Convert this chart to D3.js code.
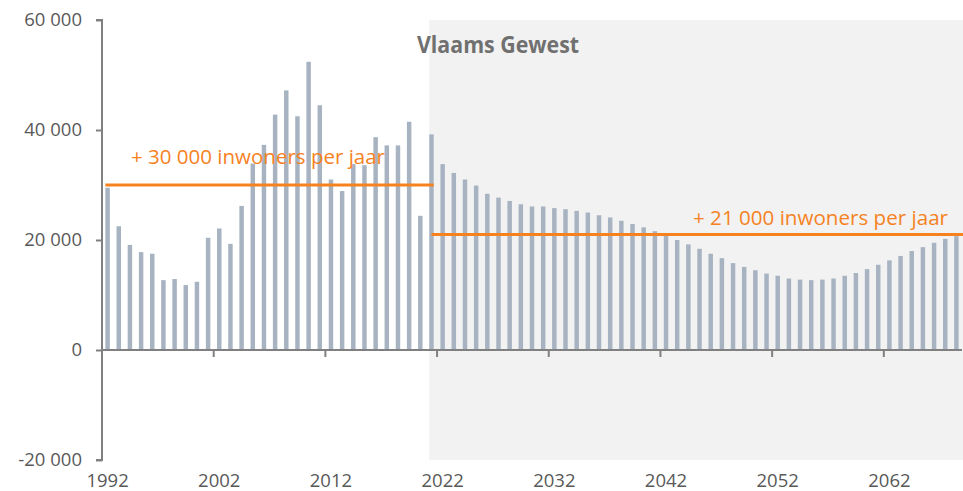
<!DOCTYPE html>
<html>
<head>
<meta charset="utf-8">
<script src="https://cdn.jsdelivr.net/npm/d3@7"></script>
<style>
  html, body { margin: 0; padding: 0; background: #ffffff; }
  svg { display: block; }
  text { font-family: "Open Sans", "Noto Sans", sans-serif; }
</style>
</head>
<body>
<svg id="chart" width="963" height="491"></svg>
<script>
// ---- data ----
const years = d3.range(1992, 2069);
const growth = [
  29500, 22500, 19100, 17800, 17500, 12700, 12900, 11800, 12400, 20400,
  22100, 19300, 26200, 33900, 37300, 42800, 47200, 42500, 52400, 44500,
  31000, 28900, 33800, 33600, 38700, 37200, 37200, 41500, 24400, 39200,
  33800, 32200, 31000, 29900, 28400, 27700, 27100, 26500, 26100, 26100,
  25800, 25600, 25300, 25000, 24500, 24100, 23500, 22900, 22300, 21600,
  20800, 20000, 19200, 18400, 17500, 16700, 15800, 15100, 14500, 13900,
  13500, 13000, 12800, 12700, 12800, 13000, 13500, 14000, 14700, 15500,
  16300, 17100, 18000, 18700, 19500, 20200, 20700
];
const yTicks = [-20000, 0, 20000, 40000, 60000];
const xTickLabels = [1992, 2002, 2012, 2022, 2032, 2042, 2052, 2062];
const projectionStart = 2021;
const averages = [
  { from: 1992, to: 2021, value: 30000, label: "+ 30 000 inwoners per jaar" },
  { from: 2021, to: 2068, value: 21000, label: "+ 21 000 inwoners per jaar" }
];
const title = "Vlaams Gewest";

(function () {
// ---- layout ----
const svg = d3.select("#chart");
const mLeft = 102, mRight = 962, mTop = 20, mBottom = 460;

const x = d3.scaleBand().domain(years).range([mLeft, mRight])
  .paddingInner(0.6).paddingOuter(0.3);
const y = d3.scaleLinear().domain([-20000, 60000]).range([mBottom, mTop]);
const step = x.step();

const fmt = v => d3.format(",")(v).replace(/,/g, " ").replace("\u2212", "-");

// shaded projection area
svg.append("rect")
  .attr("x", x(projectionStart))
  .attr("y", y(60000))
  .attr("width", mRight + 1 - x(projectionStart))
  .attr("height", y(-20000) - y(60000))
  .attr("fill", "#f2f2f2");

// bars
svg.append("g").selectAll("rect")
  .data(years.map((yr, i) => ({ yr, v: growth[i] })))
  .join("rect")
  .attr("x", d => x(d.yr))
  .attr("width", x.bandwidth())
  .attr("y", d => y(Math.max(0, d.v)))
  .attr("height", d => Math.abs(y(d.v) - y(0)))
  .attr("fill", "#a7b3c1");

// x axis line at 0
const axisColor = "#808080";
svg.append("line")
  .attr("x1", mLeft).attr("x2", mRight)
  .attr("y1", y(0)).attr("y2", y(0))
  .attr("stroke", axisColor).attr("stroke-width", 2);

// x ticks at category boundaries every 10 years
xTickLabels.slice(1).forEach(yr => {
  const bx = x(yr) - step * x.paddingOuter();
  svg.append("line")
    .attr("x1", bx).attr("x2", bx)
    .attr("y1", y(0)).attr("y2", y(0) + 7)
    .attr("stroke", axisColor).attr("stroke-width", 2);
});

// x labels
svg.append("g").selectAll("text")
  .data(xTickLabels)
  .join("text")
  .attr("x", d => x(d) + x.bandwidth() / 2)
  .attr("y", 487)
  .attr("text-anchor", "middle")
  .attr("font-size", 18.5)
  .attr("fill", "#595959")
  .text(d => d);

// y axis
const yAxis = d3.axisLeft(y).tickValues(yTicks).tickSize(6).tickPadding(14)
  .tickFormat(fmt);
const gy = svg.append("g").attr("transform", `translate(${mLeft},0)`).call(yAxis);
gy.select(".domain").attr("stroke", axisColor).attr("stroke-width", 2)
  .attr("d", `M-6,${mTop}H0V${mBottom}H-6`);
gy.selectAll(".tick line").attr("stroke", axisColor).attr("stroke-width", 2);
gy.selectAll(".tick text")
  .attr("font-size", 18.5)
  .attr("font-family", "'Open Sans', sans-serif")
  .attr("fill", "#595959");

// average lines
const orange = "#f5821f";
averages.forEach((a, i) => {
  const x1 = i === 0 ? x(a.from) : x(a.from) + x.bandwidth() / 2;
  const x2 = i === 0 ? x(a.to) + x.bandwidth() : mRight + 1;
  svg.append("line")
    .attr("x1", x1).attr("x2", x2)
    .attr("y1", y(a.value)).attr("y2", y(a.value))
    .attr("stroke", orange).attr("stroke-width", 3);
});

// annotations
svg.append("text")
  .attr("x", 131).attr("y", 164)
  .attr("font-size", 20.5)
  .attr("fill", orange)
  .attr("textLength", 254).attr("lengthAdjust", "spacingAndGlyphs")
  .text(averages[0].label);
svg.append("text")
  .attr("x", 693).attr("y", 224.5)
  .attr("font-size", 20.5)
  .attr("fill", orange)
  .attr("textLength", 255).attr("lengthAdjust", "spacingAndGlyphs")
  .text(averages[1].label);

// title
svg.append("text")
  .attr("x", 417).attr("y", 52.7)
  .attr("font-size", 22.5)
  .attr("font-weight", "bold")
  .attr("fill", "#707070")
  .attr("textLength", 162).attr("lengthAdjust", "spacingAndGlyphs")
  .text(title);
})();
</script>
</body>
</html>
